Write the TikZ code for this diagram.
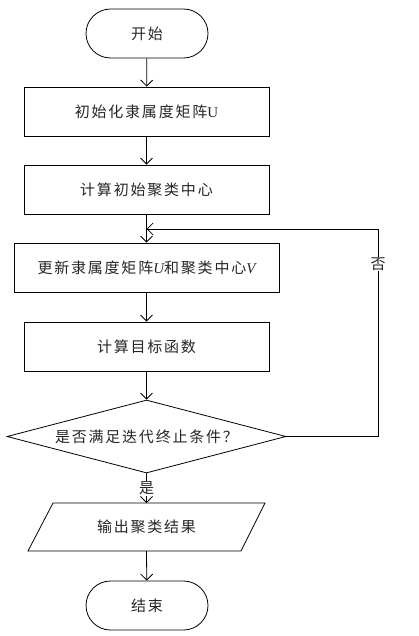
\documentclass[tikz,border=0pt]{standalone}
\usepackage{fontspec}
\setmainfont{Liberation Serif}
\newfontfamily\cjk[LetterSpace=12]{Noto Sans CJK SC}
\usetikzlibrary{arrows.meta,shapes.geometric}
\begin{document}
\begin{tikzpicture}[x=1pt,y=-1pt,
  line width=0.8pt,
  every node/.style={font=\fontsize{15}{18}\selectfont\cjk, text=black!85},
  term/.style={draw, rounded corners=24.5pt, minimum width=122pt, minimum height=49pt, inner sep=0pt},
  proc/.style={draw, minimum width=245pt, minimum height=49pt, inner sep=0pt},
  arr/.style={-{Straight Barb[length=6pt,width=12pt,line width=0.8pt]}},
  lbl/.style={fill=white, inner sep=1pt}
]
\useasboundingbox (0,0) rectangle (419,636);
\node[term] (start) at (147,33.5) {开始};
\node[proc] (b1) at (146.5,111.5) {初始化隶属度矩阵{\rmfamily U}};
\node[proc] (b2) at (146.5,189.5) {计算初始聚类中心};
\node[proc, minimum width=265pt] (b3) at (146.5,267.5) {更新隶属度矩阵{\rmfamily\itshape U}和聚类中心{\rmfamily\itshape V}};
\node[proc] (b4) at (146.5,346.5) {计算目标函数};
\node[diamond, draw, aspect=3.82, minimum width=279pt, minimum height=73pt, inner sep=0pt] (d) at (146.5,436.5) {是否满足迭代终止条件？};
\node (out) at (146.5,527) {输出聚类结果};
\coordinate (p1) at (53,503);
\coordinate (p2) at (265,503);
\coordinate (p3) at (241,551);
\coordinate (p4) at (28,551);
\draw (p1) -- (p2) -- (p3) -- (p4) -- cycle;
\coordinate (ptop) at (146.5,503);
\coordinate (pbot) at (146.5,551);
\node[term] (end) at (147,605.5) {结束};
\coordinate (rt) at (378,229);
\coordinate (join) at (146.5,229);
\draw[arr] (start) -- (b1);
\draw[arr] (b1) -- (b2);
\draw[arr] (b2) -- (b3);
\draw[arr] (b3) -- (b4);
\draw[arr] (b4) -- (d);
\draw[arr] (d.south) -- node[lbl, pos=0.5] (yes) {是} (ptop);
\draw[arr] (pbot) -- (end);
\draw[arr] (d.east) -| (rt) -- (join);
\node[lbl] (no) at (378,264) {否};
\end{tikzpicture}
\end{document}
